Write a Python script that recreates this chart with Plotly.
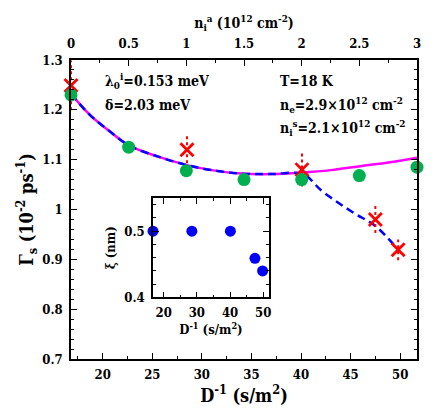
import plotly.graph_objects as go

# top axis: areal impurity density n_i^a (10^12 cm^-2), green points
n_ia = [0, 0.5, 1, 1.5, 2, 2.5, 3]
gamma_green = [1.230, 1.125, 1.078, 1.060, 1.060, 1.068, 1.085]

# experimental points (red crosses) vs D^-1 (s/m^2)
d_exp = [16.8, 28.5, 40.1, 47.5, 49.8]
gamma_exp = [1.249, 1.120, 1.080, 0.980, 0.919]
gamma_err = [0.050, 0.027, 0.034, 0.027, 0.021]

# magenta solid curve
d_mag = [16.8, 18.7, 20.7, 22.7, 25.6, 28.5, 31, 34, 37, 40, 43, 46, 49, 51.7]
g_mag = [1.232, 1.190, 1.157, 1.128, 1.106, 1.089, 1.079, 1.072, 1.071, 1.074, 1.079, 1.087, 1.095, 1.104]

# blue dashed curve
d_blue = [16.8, 18.7, 20.7, 22.7, 25.6, 28.5, 31, 34, 37, 40.2, 42.0, 43.8, 45.5, 47.5, 49.8]
g_blue = [1.232, 1.190, 1.157, 1.128, 1.106, 1.089, 1.079, 1.072, 1.071, 1.071, 1.039, 1.013, 0.991, 0.967, 0.919]

# inset: correlation length xi (nm)
xi = [0.50, 0.50, 0.50, 0.459, 0.440]

FONT = "DejaVu Serif Condensed, DejaVu Serif"


def f(size):
    return dict(size=size, family=FONT, color="black")


def b(t):
    return "<b>" + t + "</b>"


fig = go.Figure()

fig.add_trace(go.Scatter(x=d_mag, y=g_mag, mode="lines", line=dict(color="#ff00ff", width=2.5, shape="spline")))
fig.add_trace(go.Scatter(x=d_blue, y=g_blue, mode="lines",
                         line=dict(color="#0000ff", width=2.5, dash="8px,5px", shape="spline")))

fig.add_trace(go.Scatter(x=n_ia, y=gamma_green, xaxis="x2", mode="markers", cliponaxis=False,
                         marker=dict(color="#00b050", size=13)))

# dashed error bars
ex, ey = [], []
for x, y, e in zip(d_exp, gamma_exp, gamma_err):
    ex += [x, x, None]
    ey += [y - e, min(y + e, 1.299), None]
fig.add_trace(go.Scatter(x=ex, y=ey, mode="lines", line=dict(color="#ff0000", width=2, dash="3px,3px")))

fig.add_trace(go.Scatter(x=d_exp, y=gamma_exp, mode="markers", cliponaxis=False,
                         marker=dict(symbol="x-thin", size=13, line=dict(color="#ff0000", width=2.8))))

fig.add_trace(go.Scatter(x=d_exp, y=xi, xaxis="x3", yaxis="y3", mode="markers", cliponaxis=False,
                         marker=dict(color="#0000ff", size=11)))

ax = dict(showline=True, linecolor="black", linewidth=1.5, ticks="inside", tickcolor="black",
          ticklen=6, showgrid=False, zeroline=False, tickfont=f(13))
mn = dict(ticklen=3, ticks="inside", tickcolor="black")

fig.update_layout(
    width=436, height=419,
    margin=dict(l=63, r=27, t=52, b=68),
    paper_bgcolor="white", plot_bgcolor="white",
    showlegend=False,
    font=f(13),
    xaxis=dict(**ax, range=[16.8, 51.7], ticklabelstandoff=3,
               tickvals=[20, 25, 30, 35, 40, 45, 50], ticktext=[b(str(v)) for v in range(20, 55, 5)],
               minor=dict(dtick=2.5, **mn),
               title=dict(text=b("D<sup>-1</sup> (s/m<sup>2</sup>)"), font=f(18), standoff=6)),
    xaxis2=dict(**ax, range=[0, 3], overlaying="x", side="top", anchor="y", ticklabelstandoff=5,
                tickvals=[0, 0.5, 1, 1.5, 2, 2.5, 3],
                ticktext=[b(t) for t in ["0", "0.5", "1", "1.5", "2", "2.5", "3"]],
                minor=dict(dtick=0.25, **mn),
                title=dict(text=b("n<sub>i</sub><sup>a</sup> (10<sup>12</sup> cm<sup>-2</sup>)"), font=f(14),
                           standoff=4)),
    yaxis=dict(**ax, range=[0.7, 1.3], mirror="ticks", ticklabelstandoff=4,
               tickvals=[0.7, 0.8, 0.9, 1.0, 1.1, 1.2, 1.3],
               ticktext=[b(t) for t in ["0.7", "0.8", "0.9", "1", "1.1", "1.2", "1.3"]],
               minor=dict(dtick=0.02, **mn),
               title=dict(text=b("Γ<sub>s</sub> (10<sup>-2</sup> ps<sup>-1</sup>)"), font=f(18), standoff=4)),
    xaxis3=dict(**ax, domain=[0.237, 0.572], anchor="y3", range=[16.8, 51.7], mirror="ticks",
                ticklabelstandoff=2,
                tickvals=[20, 30, 40, 50], ticktext=[b(str(v)) for v in [20, 30, 40, 50]],
                minor=dict(dtick=5, **mn),
                title=dict(text=b("D<sup>-1</sup> (s/m<sup>2</sup>)"), font=f(13), standoff=4)),
    yaxis3=dict(**ax, domain=[0.206, 0.538], anchor="x3", range=[0.4, 0.55], mirror="ticks",
                ticklabelstandoff=4,
                tickvals=[0.4, 0.5], ticktext=[b("0.4"), b("0.5")],
                minor=dict(dtick=0.02, **mn),
                title=dict(text=b("ξ (nm)"), font=f(13), standoff=6)),
)

notes = [
    (0.092, 0.93, "λ<sub>0</sub><sup>i</sup>=0.153 meV"),
    (0.092, 0.85, "δ=2.03 meV"),
    (0.598, 0.93, "T=18 K"),
    (0.598, 0.85, "n<sub>e</sub>=2.9×10<sup>12</sup> cm<sup>-2</sup>"),
    (0.598, 0.773, "n<sub>i</sub><sup>s</sup>=2.1×10<sup>12</sup> cm<sup>-2</sup>"),
]
for x, y, t in notes:
    fig.add_annotation(x=x, y=y, xref="paper", yref="paper", text=b(t), showarrow=False,
                       xanchor="left", yanchor="middle", font=f(14))

fig.write_html("out.html")
